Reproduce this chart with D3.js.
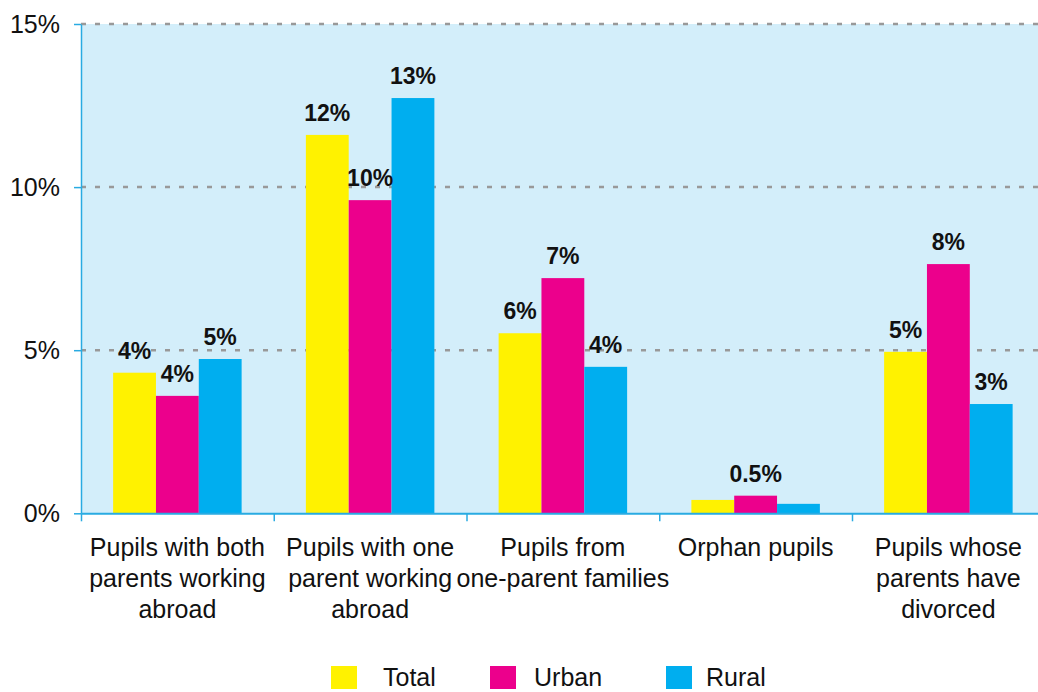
<!DOCTYPE html>
<html>
<head>
<meta charset="utf-8">
<script src="https://cdn.jsdelivr.net/npm/d3@7"></script>
<style>
  html, body { margin: 0; padding: 0; background: #fff; }
  svg { display: block; font-family: "Liberation Sans", Arial, Helvetica, sans-serif; }
</style>
</head>
<body>
<svg id="chart" width="1038" height="692"></svg>
<script>
// Share of pupils in each situation, by area (percent)
const categories = [
  ["Pupils with both", "parents working", "abroad"],
  ["Pupils with one", "parent working", "abroad"],
  ["Pupils from", "one-parent families"],
  ["Orphan pupils"],
  ["Pupils whose", "parents have", "divorced"]
];
const seriesNames = ["Total", "Urban", "Rural"];
const totalValues = [4.31, 11.6, 5.52, 0.41, 4.95];
const urbanValues = [3.6, 9.6, 7.21, 0.54, 7.64];
const ruralValues = [4.73, 12.73, 4.49, 0.29, 3.35];
const seriesColors = ["#FFF200", "#EC008C", "#00AEEF"];
const yTicks = [0, 5, 10, 15];

const seriesValues = [totalValues, urbanValues, ruralValues];

const svg = d3.select("#chart");
const W = 1038;
const plot = { left: 81, top: 24, bottom: 513.3 };
const groupStep = 192.75;

const groupIdx = categories.map((_, i) => i);
const x = d3.scaleBand()
  .domain(groupIdx)
  .range([plot.left, plot.left + groupStep * categories.length])
  .paddingInner(0).paddingOuter(0);
const xSub = d3.scaleBand()
  .domain(seriesNames)
  .range([0, x.bandwidth()])
  .paddingInner(0).paddingOuter(0.75);
const y = d3.scaleLinear().domain([0, 15]).range([plot.bottom, plot.top]);

// plot background
svg.append("rect")
  .attr("x", plot.left).attr("y", plot.top)
  .attr("width", W - plot.left).attr("height", plot.bottom - plot.top)
  .attr("fill", "#D3EEFA");

// dashed gridlines
svg.append("g")
  .selectAll("line")
  .data(yTicks.filter(d => d > 0))
  .join("line")
  .attr("x1", plot.left).attr("x2", W)
  .attr("y1", d => y(d)).attr("y2", d => y(d))
  .attr("stroke", "#999999")
  .attr("stroke-width", 2.5)
  .attr("stroke-dasharray", "5,9");

// bars
const barData = [];
groupIdx.forEach(g => {
  seriesNames.forEach((s, si) => {
    barData.push({ g, s, si, v: seriesValues[si][g] });
  });
});

svg.append("g")
  .selectAll("rect")
  .data(barData)
  .join("rect")
  .attr("x", d => x(d.g) + xSub(d.s))
  .attr("width", xSub.bandwidth())
  .attr("y", d => y(d.v))
  .attr("height", d => y(0) - y(d.v))
  .attr("fill", d => seriesColors[d.si]);

// value labels (whole percent; one decimal below 1%)
const fmtLabel = v => (v >= 1 ? Math.round(v) : d3.format(".1f")(v)) + "%";
svg.append("g")
  .selectAll("text")
  .data(barData.filter(d => d.v >= 0.5))
  .join("text")
  .attr("x", d => x(d.g) + xSub(d.s) + xSub.bandwidth() / 2)
  .attr("y", d => y(d.v) - 14)
  .attr("text-anchor", "middle")
  .attr("font-size", 23)
  .attr("font-weight", "bold")
  .attr("fill", "#111")
  .text(d => fmtLabel(d.v));

// y axis
const yAxis = svg.append("g")
  .attr("transform", `translate(${plot.left},0)`)
  .call(d3.axisLeft(y).tickValues(yTicks).tickSize(7).tickSizeOuter(0).tickPadding(14)
    .tickFormat(d => d + "%"));
yAxis.select(".domain").attr("stroke", "#29ABE2").attr("stroke-width", 1.5);
yAxis.selectAll(".tick line").attr("stroke", "#29ABE2").attr("stroke-width", 1.5);
yAxis.selectAll(".tick text")
  .attr("font-size", 25)
  .attr("font-family", "\"Liberation Sans\", Arial, Helvetica, sans-serif")
  .attr("fill", "#111");

// x axis: ticks at group boundaries
const xEdges = d3.scaleLinear()
  .domain([0, categories.length])
  .range([plot.left, plot.left + groupStep * categories.length]);
const xAxis = svg.append("g")
  .attr("transform", `translate(0,${plot.bottom})`)
  .call(d3.axisBottom(xEdges).tickValues(d3.range(categories.length + 1))
    .tickSize(8).tickSizeOuter(0).tickFormat(""));
xAxis.select(".domain").attr("stroke", "#29ABE2").attr("stroke-width", 2);
xAxis.selectAll(".tick line").attr("stroke", "#29ABE2").attr("stroke-width", 1.5);

// category labels
const catG = svg.append("g")
  .selectAll("text")
  .data(categories)
  .join("text")
  .attr("text-anchor", "middle")
  .attr("font-size", 25)
  .attr("fill", "#111")
  .attr("transform", (d, i) => `translate(${x(i) + x.bandwidth() / 2},556)`);
catG.selectAll("tspan")
  .data(d => d)
  .join("tspan")
  .attr("x", 0)
  .attr("y", (d, i) => i * 31)
  .text(d => d);

// legend
const legendX = [{ sq: 331, tx: 383 }, { sq: 490, tx: 534 }, { sq: 666, tx: 706 }];
const legend = svg.append("g")
  .selectAll("g")
  .data(seriesNames)
  .join("g");
legend.append("rect")
  .attr("x", (d, i) => legendX[i].sq)
  .attr("y", 666)
  .attr("width", 26).attr("height", 23)
  .attr("fill", (d, i) => seriesColors[i]);
legend.append("text")
  .attr("x", (d, i) => legendX[i].tx)
  .attr("y", 686)
  .attr("font-size", 25)
  .attr("fill", "#111")
  .text(d => d);
</script>
</body>
</html>
